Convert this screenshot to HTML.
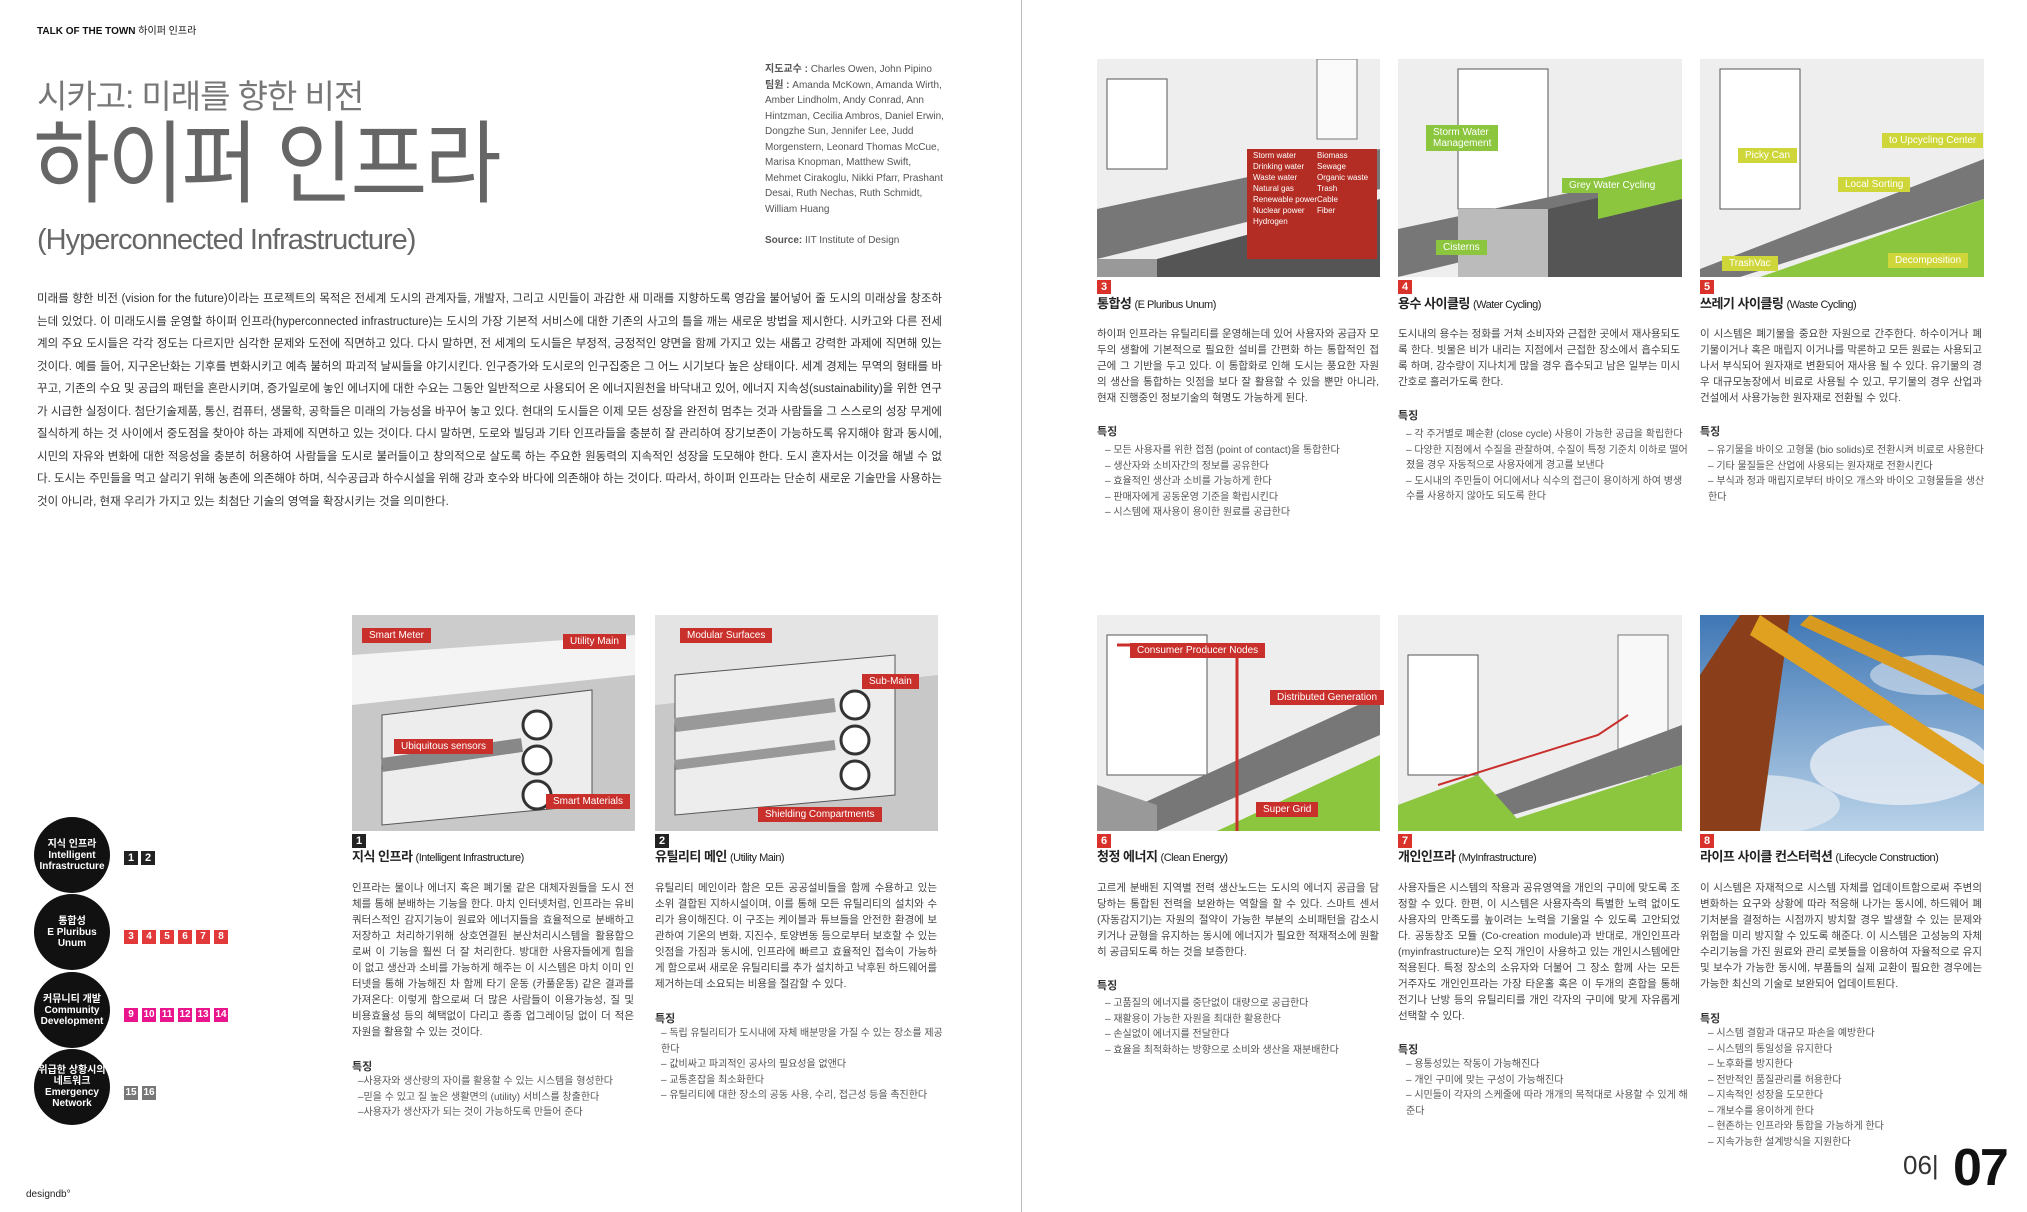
<!DOCTYPE html>
<html><head><meta charset="utf-8">
<style>
*{margin:0;padding:0;box-sizing:border-box}
body{width:2027px;height:1212px;background:#fff;position:relative;overflow:hidden;font-family:"Liberation Sans","Noto Sans CJK KR",sans-serif;color:#333}
.a{position:absolute}
.body{font-size:11.5px;line-height:22.5px;color:#333;text-align:justify;width:905px}
.col{font-size:10.5px;line-height:16px;color:#444;width:282px;text-align:justify}
.feat{font-size:11px;font-weight:bold;color:#333}
.bul{font-size:10px;line-height:15.5px;color:#555;width:282px}
.h{font-size:13px;font-weight:bold;color:#222;letter-spacing:-0.5px}
.num{display:inline-block;width:14px;height:14px;background:#d9322a;color:#fff;font-size:11px;font-weight:bold;text-align:center;line-height:14px}
.numk{display:inline-block;width:14px;height:14px;background:#222;color:#fff;font-size:11px;font-weight:bold;text-align:center;line-height:14px;margin-right:3px}
.numr{display:inline-block;width:14px;height:14px;background:#e23a3a;color:#fff;font-size:10px;font-weight:bold;text-align:center;line-height:14px;margin-right:4px}
.numm{display:inline-block;width:14px;height:14px;background:#e8158c;color:#fff;font-size:10px;font-weight:bold;text-align:center;line-height:14px;margin-right:4px}
.numg{display:inline-block;width:14px;height:14px;background:#777;color:#fff;font-size:10px;font-weight:bold;text-align:center;line-height:14px;margin-right:4px}
.circ{width:76px;height:76px;border-radius:50%;background:#111;color:#fff;font-size:10px;font-weight:bold;text-align:center;display:flex;align-items:center;justify-content:center;line-height:11px}
.lab{position:absolute;background:#c9302c;color:#fff;font-size:10px;padding:2px 7px}
.labg{position:absolute;background:#8cc63f;color:#fff;font-size:10px;padding:2px 7px}
.laby{position:absolute;background:#cfd63a;color:#fff;font-size:10px;padding:2px 7px}
</style></head><body>

<div class="a" style="left:1021px;top:0;width:1px;height:1212px;background:#bbb"></div>

<div class="a" style="left:37px;top:22px;font-size:10px;font-weight:bold;color:#111">TALK OF THE TOWN <span style="font-weight:normal">하이퍼 인프라</span></div>
<div class="a" style="left:37px;top:70px;font-size:33px;color:#777;letter-spacing:-1px">시카고: 미래를 향한 비전</div>
<div class="a" style="left:33px;top:110px;font-size:90px;color:#666;letter-spacing:-3px;line-height:110px;transform:scaleX(0.93);transform-origin:left top">하이퍼 인프라</div>
<div class="a" style="left:37px;top:224px;font-size:29px;color:#666;letter-spacing:-1px">(Hyperconnected Infrastructure)</div>

<div class="a" style="left:765px;top:62px;font-size:10px;line-height:15.5px;color:#555;width:180px">
<b>지도교수 :</b> Charles Owen, John Pipino<br><b>팀원 :</b> Amanda McKown, Amanda Wirth, Amber Lindholm, Andy Conrad, Ann Hintzman, Cecilia Ambros, Daniel Erwin, Dongzhe Sun, Jennifer Lee, Judd Morgenstern, Leonard Thomas McCue, Marisa Knopman, Matthew Swift, Mehmet Cirakoglu, Nikki Pfarr, Prashant Desai, Ruth Nechas, Ruth Schmidt, William Huang<br><br><b>Source:</b> IIT Institute of Design</div>

<div class="a body" style="left:37px;top:288px">미래를 향한 비전 (vision for the future)이라는 프로젝트의 목적은 전세계 도시의 관계자들, 개발자, 그리고 시민들이 과감한 새 미래를 지향하도록 영감을 불어넣어 줄 도시의 미래상을 창조하는데 있었다. 이 미래도시를 운영할 하이퍼 인프라(hyperconnected infrastructure)는 도시의 가장 기본적 서비스에 대한 기존의 사고의 틀을 깨는 새로운 방법을 제시한다. 시카고와 다른 전세계의 주요 도시들은 각각 정도는 다르지만 심각한 문제와 도전에 직면하고 있다. 다시 말하면, 전 세계의 도시들은 부정적, 긍정적인 양면을 함께 가지고 있는 새롭고 강력한 과제에 직면해 있는 것이다. 예를 들어, 지구온난화는 기후를 변화시키고 예측 불허의 파괴적 날씨들을 야기시킨다. 인구증가와 도시로의 인구집중은 그 어느 시기보다 높은 상태이다. 세계 경제는 무역의 형태를 바꾸고, 기존의 수요 및 공급의 패턴을 혼란시키며, 증가일로에 놓인 에너지에 대한 수요는 그동안 일반적으로 사용되어 온 에너지원천을 바닥내고 있어, 에너지 지속성(sustainability)을 위한 연구가 시급한 실정이다. 첨단기술제품, 통신, 컴퓨터, 생물학, 공학들은 미래의 가능성을 바꾸어 놓고 있다. 현대의 도시들은 이제 모든 성장을 완전히 멈추는 것과 사람들을 그 스스로의 성장 무게에 질식하게 하는 것 사이에서 중도점을 찾아야 하는 과제에 직면하고 있는 것이다. 다시 말하면, 도로와 빌딩과 기타 인프라들을 충분히 잘 관리하여 장기보존이 가능하도록 유지해야 함과 동시에, 시민의 자유와 변화에 대한 적응성을 충분히 허용하여 사람들을 도시로 불러들이고 창의적으로 살도록 하는 주요한 원동력의 지속적인 성장을 도모해야 한다. 도시 혼자서는 이것을 해낼 수 없다. 도시는 주민들을 먹고 살리기 위해 농촌에 의존해야 하며, 식수공급과 하수시설을 위해 강과 호수와 바다에 의존해야 하는 것이다. 따라서, 하이퍼 인프라는 단순히 새로운 기술만을 사용하는 것이 아니라, 현재 우리가 가지고 있는 최첨단 기술의 영역을 확장시키는 것을 의미한다.</div>

<!-- circles -->
<div class="a circ" style="left:34px;top:817px">지식 인프라<br>Intelligent<br>Infrastructure</div>
<div class="a circ" style="left:34px;top:894px">통합성<br>E Pluribus<br>Unum</div>
<div class="a circ" style="left:34px;top:972px">커뮤니티 개발<br>Community<br>Development</div>
<div class="a circ" style="left:34px;top:1049px">위급한 상황시의<br>네트워크<br>Emergency<br>Network</div>
<div class="a" style="left:124px;top:848px"><span class="numk">1</span><span class="numk">2</span></div>
<div class="a" style="left:124px;top:926px"><span class="numr">3</span><span class="numr">4</span><span class="numr">5</span><span class="numr">6</span><span class="numr">7</span><span class="numr">8</span></div>
<div class="a" style="left:124px;top:1004px"><span class="numm">9</span><span class="numm">10</span><span class="numm">11</span><span class="numm">12</span><span class="numm">13</span><span class="numm">14</span></div>
<div class="a" style="left:124px;top:1082px"><span class="numg">15</span><span class="numg">16</span></div>
<div class="a" style="left:26px;top:1189px;font-size:10px;color:#222">designdb°</div>

<!-- cutaway images 1 & 2 -->
<svg class="a" style="left:352px;top:615px" width="283" height="216" viewBox="0 0 283 216">
<rect width="283" height="216" fill="#e4e4e4"/>
<polygon points="0,20 283,0 283,60 0,90" fill="#f4f4f4"/>
<polygon points="0,90 283,60 283,216 0,216" fill="#c8c8c8"/>
<polygon points="30,100 240,75 240,190 30,210" fill="#ededed" stroke="#555"/>
<circle cx="185" cy="110" r="14" fill="#fff" stroke="#333" stroke-width="3"/>
<circle cx="185" cy="145" r="14" fill="#fff" stroke="#333" stroke-width="3"/>
<circle cx="185" cy="180" r="14" fill="#fff" stroke="#333" stroke-width="3"/>
<line x1="30" y1="150" x2="170" y2="130" stroke="#888" stroke-width="14"/>
<polygon points="0,0 283,0 283,20 0,40" fill="#ccc"/>
</svg>
<div class="lab" style="left:362px;top:628px">Smart Meter</div>
<div class="lab" style="left:563px;top:634px">Utility Main</div>
<div class="lab" style="left:394px;top:739px">Ubiquitous sensors</div>
<div class="lab" style="left:546px;top:794px">Smart Materials</div>
<svg class="a" style="left:655px;top:615px" width="283" height="216" viewBox="0 0 283 216">
<rect width="283" height="216" fill="#e4e4e4"/>
<polygon points="0,90 283,60 283,216 0,216" fill="#c8c8c8"/>
<polygon points="20,60 240,40 240,180 20,200" fill="#ededed" stroke="#555"/>
<circle cx="200" cy="90" r="14" fill="#fff" stroke="#333" stroke-width="3"/>
<circle cx="200" cy="125" r="14" fill="#fff" stroke="#333" stroke-width="3"/>
<circle cx="200" cy="160" r="14" fill="#fff" stroke="#333" stroke-width="3"/>
<line x1="20" y1="110" x2="180" y2="90" stroke="#999" stroke-width="14"/>
<line x1="20" y1="150" x2="180" y2="130" stroke="#999" stroke-width="10"/>
</svg>
<div class="lab" style="left:680px;top:628px">Modular Surfaces</div>
<div class="lab" style="left:862px;top:674px">Sub-Main</div>
<div class="lab" style="left:758px;top:807px">Shielding Compartments</div>

<div class="a" style="left:352px;top:831px"><span class="numk">1</span></div>
<div class="a h" style="left:352px;top:846px">지식 인프라 <span style="font-weight:normal;font-size:11px">(Intelligent Infrastructure)</span></div>
<div class="a col" style="left:352px;top:880px">인프라는 물이나 에너지 혹은 폐기물 같은 대체자원들을 도시 전체를 통해 분배하는 기능을 한다. 마치 인터넷처럼, 인프라는 유비쿼터스적인 감지기능이 원료와 에너지들을 효율적으로 분배하고 저장하고 처리하기위해 상호연결된 분산처리시스템을 활용함으로써 이 기능을 훨씬 더 잘 처리한다. 방대한 사용자들에게 힘을 이 없고 생산과 소비를 가능하게 해주는 이 시스템은 마치 이미 인터넷을 통해 가능해진 차 함께 타기 운동 (카풀운동) 같은 결과를 가져온다: 이렇게 함으로써 더 많은 사람들이 이용가능성, 질 및 비용효율성 등의 혜택없이 다리고 종종 업그레이딩 없이 더 적은 자원을 활용할 수 있는 것이다.</div>
<div class="a feat" style="left:352px;top:1058px">특징</div>
<div class="a bul" style="left:358px;top:1074px">–사용자와 생산량의 자이를 활용할 수 있는 시스템을 형성한다<br>–믿을 수 있고 질 높은 생활면의 (utility) 서비스를 창출한다<br>–사용자가 생산자가 되는 것이 가능하도록 만들어 준다</div>

<div class="a" style="left:655px;top:831px"><span class="numk">2</span></div>
<div class="a h" style="left:655px;top:846px">유틸리티 메인 <span style="font-weight:normal;font-size:11px">(Utility Main)</span></div>
<div class="a col" style="left:655px;top:880px">유틸리티 메인이라 함은 모든 공공설비들을 함께 수용하고 있는 소위 결합된 지하시설이며, 이를 통해 모든 유틸리티의 설치와 수리가 용이해진다. 이 구조는 케이블과 튜브들을 안전한 환경에 보관하여 기온의 변화, 지진수, 토양변동 등으로부터 보호할 수 있는 잇점을 가짐과 동시에, 인프라에 빠르고 효율적인 접속이 가능하게 함으로써 새로운 유틸리티를 추가 설치하고 낙후된 하드웨어를 제거하는데 소요되는 비용을 절감할 수 있다.</div>
<div class="a feat" style="left:655px;top:1010px">특징</div>
<div class="a bul" style="left:661px;top:1026px">– 독립 유틸리티가 도시내에 자체 배분망을 가질 수 있는 장소를 제공한다<br>– 값비싸고 파괴적인 공사의 필요성을 없앤다<br>– 교통혼잡을 최소화한다<br>– 유틸리티에 대한 장소의 공동 사용, 수리, 접근성 등을 촉진한다</div>

<!-- right page top images -->
<svg class="a" style="left:1097px;top:59px" width="283" height="218" viewBox="0 0 283 218">
<rect width="283" height="218" fill="#eeeeee"/>
<rect x="10" y="20" width="60" height="90" fill="#fff" stroke="#555"/>
<rect x="220" y="0" width="40" height="80" fill="#fafafa" stroke="#777"/>
<polygon points="0,150 283,90 283,130 0,200" fill="#777"/>
<polygon points="60,200 283,140 283,218 60,218" fill="#555"/>
<rect x="150" y="90" width="130" height="110" fill="#b32d24"/>
<polygon points="0,200 60,200 60,218 0,218" fill="#999"/>
</svg>
<div class="a" style="left:1253px;top:150px;font-size:8px;line-height:11px;color:#fff">Storm water<br>Drinking water<br>Waste water<br>Natural gas<br>Renewable power<br>Nuclear power<br>Hydrogen</div>
<div class="a" style="left:1317px;top:150px;font-size:8px;line-height:11px;color:#fff">Biomass<br>Sewage<br>Organic waste<br>Trash<br>Cable<br>Fiber</div>

<svg class="a" style="left:1398px;top:59px" width="284" height="218" viewBox="0 0 284 218">
<rect width="284" height="218" fill="#eeeeee"/>
<rect x="60" y="10" width="90" height="140" fill="#fff" stroke="#555"/>
<polygon points="0,170 284,110 284,150 0,218" fill="#777"/>
<polygon points="150,150 284,120 284,218 150,218" fill="#555"/>
<polygon points="200,120 284,100 284,140 200,160" fill="#8cc63f"/>
<rect x="60" y="150" width="90" height="68" fill="#bbb"/>
</svg>
<div class="labg" style="left:1426px;top:125px;background:#8cc63f">Storm Water<br>Management</div>
<div class="labg" style="left:1562px;top:178px">Grey Water Cycling</div>
<div class="labg" style="left:1436px;top:240px">Cisterns</div>

<svg class="a" style="left:1700px;top:59px" width="284" height="218" viewBox="0 0 284 218">
<rect width="284" height="218" fill="#eeeeee"/>
<rect x="20" y="10" width="80" height="140" fill="#fff" stroke="#555"/>
<polygon points="0,210 284,100 284,140 40,218 0,218" fill="#777"/>
<polygon points="60,218 284,140 284,218" fill="#8cc63f"/>
</svg>
<div class="laby" style="left:1738px;top:148px">Picky Can</div>
<div class="laby" style="left:1882px;top:133px">to Upcycling Center</div>
<div class="laby" style="left:1838px;top:177px">Local Sorting</div>
<div class="laby" style="left:1722px;top:256px">TrashVac</div>
<div class="laby" style="left:1888px;top:253px">Decomposition</div>

<!-- right page top texts -->
<div class="a" style="left:1097px;top:277px"><span class="num">3</span></div>
<div class="a h" style="left:1097px;top:293px">통합성 <span style="font-weight:normal;font-size:11px">(E Pluribus Unum)</span></div>
<div class="a col" style="left:1097px;top:326px">하이퍼 인프라는 유틸리티를 운영해는데 있어 사용자와 공급자 모두의 생활에 기본적으로 필요한 설비를 간편화 하는 통합적인 접근에 그 기반을 두고 있다. 이 통합화로 인해 도시는 풍요한 자원의 생산을 통합하는 잇점을 보다 잘 활용할 수 있을 뿐만 아니라, 현재 진행중인 정보기술의 혁명도 가능하게 된다.</div>
<div class="a feat" style="left:1097px;top:423px">특징</div>
<div class="a bul" style="left:1105px;top:443px">– 모든 사용자를 위한 접점 (point of contact)을 통합한다<br>– 생산자와 소비자간의 정보를 공유한다<br>– 효율적인 생산과 소비를 가능하게 한다<br>– 판매자에게 공동운영 기준을 확립시킨다<br>– 시스템에 재사용이 용이한 원료를 공급한다</div>

<div class="a" style="left:1398px;top:277px"><span class="num">4</span></div>
<div class="a h" style="left:1398px;top:293px">용수 사이클링 <span style="font-weight:normal;font-size:11px">(Water Cycling)</span></div>
<div class="a col" style="left:1398px;top:326px">도시내의 용수는 정화를 거쳐 소비자와 근접한 곳에서 재사용되도록 한다. 빗물은 비가 내리는 지점에서 근접한 장소에서 흡수되도록 하며, 강수량이 지나치게 많을 경우 흡수되고 남은 일부는 미시간호로 흘러가도록 한다.</div>
<div class="a feat" style="left:1398px;top:407px">특징</div>
<div class="a bul" style="left:1406px;top:427px">– 각 주거별로 폐순환 (close cycle) 사용이 가능한 공급을 확립한다<br>– 다양한 지점에서 수질을 관찰하여, 수질이 특정 기준치 이하로 떨어졌을 경우 자동적으로 사용자에게 경고를 보낸다<br>– 도시내의 주민들이 어디에서나 식수의 접근이 용이하게 하여 병생수를 사용하지 않아도 되도록 한다</div>

<div class="a" style="left:1700px;top:277px"><span class="num">5</span></div>
<div class="a h" style="left:1700px;top:293px">쓰레기 사이클링 <span style="font-weight:normal;font-size:11px">(Waste Cycling)</span></div>
<div class="a col" style="left:1700px;top:326px">이 시스템은 폐기물을 중요한 자원으로 간주한다. 하수이거나 폐기물이거나 혹은 매립지 이거나를 막론하고 모든 원료는 사용되고 나서 부식되어 원자재로 변환되어 재사용 될 수 있다. 유기물의 경우 대규모농장에서 비료로 사용될 수 있고, 무기물의 경우 산업과 건설에서 사용가능한 원자재로 전환될 수 있다.</div>
<div class="a feat" style="left:1700px;top:423px">특징</div>
<div class="a bul" style="left:1708px;top:443px">– 유기물을 바이오 고형물 (bio solids)로 전환시켜 비료로 사용한다<br>– 기타 물질들은 산업에 사용되는 원자재로 전환시킨다<br>– 부식과 정과 매립지로부터 바이오 개스와 바이오 고형물들을 생산한다</div>

<!-- right page bottom images -->
<svg class="a" style="left:1097px;top:615px" width="283" height="216" viewBox="0 0 283 216">
<rect width="283" height="216" fill="#eeeeee"/>
<rect x="10" y="20" width="100" height="140" fill="#fff" stroke="#555"/>
<polygon points="60,216 283,120 283,80 20,200" fill="#777"/>
<polygon points="120,216 283,140 283,216" fill="#8cc63f"/>
<polyline points="20,30 140,30 140,216" fill="none" stroke="#c9302c" stroke-width="3"/>
<polygon points="0,170 60,190 60,216 0,216" fill="#999"/>
</svg>
<div class="lab" style="left:1130px;top:643px">Consumer Producer Nodes</div>
<div class="lab" style="left:1270px;top:690px">Distributed Generation</div>
<div class="lab" style="left:1256px;top:802px">Super Grid</div>

<svg class="a" style="left:1398px;top:615px" width="284" height="216" viewBox="0 0 284 216">
<rect width="284" height="216" fill="#eeeeee"/>
<rect x="10" y="40" width="70" height="120" fill="#fff" stroke="#555"/>
<rect x="220" y="20" width="50" height="140" fill="#f8f8f8" stroke="#777"/>
<polygon points="0,216 284,110 284,150 60,216" fill="#777"/>
<polygon points="80,216 284,150 284,216" fill="#8cc63f"/>
<polygon points="0,190 80,160 130,216 0,216" fill="#8cc63f"/>
<polyline points="40,170 200,120 230,100" fill="none" stroke="#c9302c" stroke-width="2"/>
</svg>

<svg class="a" style="left:1700px;top:615px" width="284" height="216" viewBox="0 0 284 216">
<defs><linearGradient id="sky" x1="0" y1="0" x2="0" y2="1"><stop offset="0" stop-color="#3f77b5"/><stop offset="1" stop-color="#b9d2e8"/></linearGradient></defs>
<rect width="284" height="216" fill="url(#sky)"/>
<ellipse cx="200" cy="150" rx="90" ry="40" fill="#e8eef5" opacity=".8"/>
<ellipse cx="60" cy="190" rx="80" ry="30" fill="#dfe7f0" opacity=".8"/>
<ellipse cx="230" cy="60" rx="60" ry="20" fill="#dde6f0" opacity=".6"/>
<polygon points="0,60 40,0 90,0 60,216 0,216" fill="#8a3f1a"/>
<polygon points="60,0 284,150 284,170 50,20" fill="#e0a020"/>
<polygon points="110,0 284,80 284,95 100,10" fill="#d99a20"/>
</svg>

<div class="a" style="left:1097px;top:831px"><span class="num">6</span></div>
<div class="a h" style="left:1097px;top:846px">청정 에너지 <span style="font-weight:normal;font-size:11px">(Clean Energy)</span></div>
<div class="a col" style="left:1097px;top:880px">고르게 분배된 지역별 전력 생산노드는 도시의 에너지 공급을 담당하는 통합된 전력을 보완하는 역할을 할 수 있다. 스마트 센서 (자동감지기)는 자원의 절약이 가능한 부분의 소비패턴을 감소시키거나 균형을 유지하는 동시에 에너지가 필요한 적재적소에 원활히 공급되도록 하는 것을 보증한다.</div>
<div class="a feat" style="left:1097px;top:977px">특징</div>
<div class="a bul" style="left:1105px;top:996px">– 고품질의 에너지를 중단없이 대량으로 공급한다<br>– 재활용이 가능한 자원을 최대한 활용한다<br>– 손실없이 에너지를 전달한다<br>– 효율을 최적화하는 방향으로 소비와 생산을 재분배한다</div>

<div class="a" style="left:1398px;top:831px"><span class="num">7</span></div>
<div class="a h" style="left:1398px;top:846px">개인인프라 <span style="font-weight:normal;font-size:11px">(MyInfrastructure)</span></div>
<div class="a col" style="left:1398px;top:880px">사용자들은 시스템의 작용과 공유영역을 개인의 구미에 맞도록 조정할 수 있다. 한편, 이 시스템은 사용자측의 특별한 노력 없이도 사용자의 만족도를 높이려는 노력을 기울일 수 있도록 고안되었다. 공동창조 모듈 (Co-creation module)과 반대로, 개인인프라(myinfrastructure)는 오직 개인이 사용하고 있는 개인시스템에만 적용된다. 특정 장소의 소유자와 더불어 그 장소 함께 사는 모든 거주자도 개인인프라는 가장 타운홀 혹은 이 두개의 혼합을 통해 전기나 난방 등의 유틸리티를 개인 각자의 구미에 맞게 자유롭게 선택할 수 있다.</div>
<div class="a feat" style="left:1398px;top:1041px">특징</div>
<div class="a bul" style="left:1406px;top:1057px">– 용통성있는 작동이 가능해진다<br>– 개인 구미에 맞는 구성이 가능해진다<br>– 시민들이 각자의 스케줄에 따라 개개의 목적대로 사용할 수 있게 해준다</div>

<div class="a" style="left:1700px;top:831px"><span class="num">8</span></div>
<div class="a h" style="left:1700px;top:846px">라이프 사이클 컨스터럭션 <span style="font-weight:normal;font-size:11px">(Lifecycle Construction)</span></div>
<div class="a col" style="left:1700px;top:880px">이 시스템은 자재적으로 시스템 자체를 업데이트함으로써 주변의 변화하는 요구와 상황에 따라 적응해 나가는 동시에, 하드웨어 폐기처분을 결정하는 시점까지 방치할 경우 발생할 수 있는 문제와 위험을 미리 방지할 수 있도록 해준다. 이 시스템은 고성능의 자체 수리기능을 가진 원료와 관리 로봇들을 이용하여 자율적으로 유지 및 보수가 가능한 동시에, 부품들의 실제 교환이 필요한 경우에는 가능한 최신의 기술로 보완되어 업데이트된다.</div>
<div class="a feat" style="left:1700px;top:1010px">특징</div>
<div class="a bul" style="left:1708px;top:1026px">– 시스템 결함과 대규모 파손을 예방한다<br>– 시스템의 통일성을 유지한다<br>– 노후화를 방지한다<br>– 전반적인 품질관리를 허용한다<br>– 지속적인 성장을 도모한다<br>– 개보수를 용이하게 한다<br>– 현존하는 인프라와 통합을 가능하게 한다<br>– 지속가능한 설계방식을 지원한다</div>

<div class="a" style="left:1903px;top:1150px;font-size:26px;color:#333">06|</div>
<div class="a" style="left:1953px;top:1138px;font-size:52px;font-weight:bold;color:#111;letter-spacing:-2px">07</div>
</body></html>
